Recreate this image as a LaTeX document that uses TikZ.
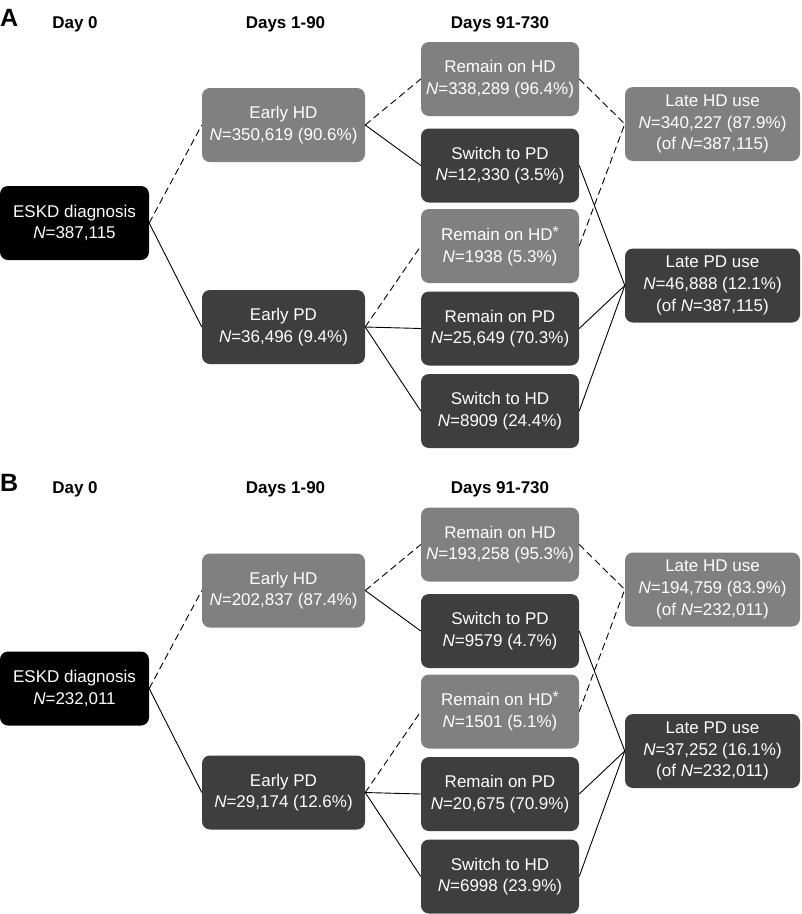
\documentclass[tikz,border=0pt]{standalone}
\usepackage{fontspec}
\setmainfont{Liberation Sans}
\definecolor{lightg}{HTML}{808080}
\definecolor{darkg}{HTML}{3E3E3E}
\newcommand{\Nn}{\textit{N}}
\newcommand{\astr}{\raisebox{3pt}{\fontsize{16}{16}\selectfont *}}
\begin{document}
\begin{tikzpicture}[x=1pt,y=-1pt,
  boxbase/.style={rectangle, rounded corners=8pt, inner sep=0pt, align=center, text=white,
    minimum height=74pt, font=\fontsize{17}{21.8}\selectfont},
  blackbox/.style={boxbase, fill=black},
  lightbox/.style={boxbase, fill=lightg},
  darkbox/.style={boxbase, fill=darkg},
  colone/.style={minimum width=149pt},
  coltwo/.style={minimum width=163pt},
  colthree/.style={minimum width=158pt},
  colfour/.style={minimum width=175pt},
  hdr/.style={anchor=base, inner sep=0pt, font=\fontsize{17}{20}\bfseries\selectfont},
  panellbl/.style={anchor=base west, inner sep=0pt, font=\fontsize{25}{28}\bfseries\selectfont},
  solidconn/.style={draw=black, line width=0.9pt},
  dashconn/.style={draw=black, line width=0.9pt, dash pattern=on 7pt off 4pt}]
\useasboundingbox (0,0) rectangle (802,914);

% ---------------- Panel A ----------------
\begin{scope}
\node[panellbl] (lblA) at (0,26) {A};
\node[hdr] (h0A) at (75,28) {Day 0};
\node[hdr] (h1A) at (285.5,28) {Days 1-90};
\node[hdr] (h2A) at (500,28) {Days 91-730};

\node[blackbox, colone] (eskdA) at (74.5,223) {ESKD diagnosis\\\Nn=387,115};
\node[lightbox, coltwo] (ehdA) at (283.5,125) {Early HD\\\Nn=350,619 (90.6\%)};
\node[darkbox, coltwo] (epdA) at (283.5,327) {Early PD\\\Nn=36,496 (9.4\%)};

\node[lightbox, colthree] (rhdA) at (500,79) {Remain on HD\\\Nn=338,289 (96.4\%)};
\node[darkbox, colthree] (spdA) at (500,165.5) {Switch to PD\\\Nn=12,330 (3.5\%)};
\node[lightbox, colthree] (rhdsA) at (500,246) {Remain on HD\astr\\\Nn=1938 (5.3\%)};
\node[darkbox, colthree] (rpdA) at (500,328.5) {Remain on PD\\\Nn=25,649 (70.3\%)};
\node[darkbox, colthree] (shdA) at (500,411) {Switch to HD\\\Nn=8909 (24.4\%)};

\node[lightbox, colfour] (lhdA) at (712.5,124) {Late HD use\\\Nn=340,227 (87.9\%)\\(of \Nn=387,115)};
\node[darkbox, colfour] (lpdA) at (712.5,285.5) {Late PD use\\\Nn=46,888 (12.1\%)\\(of \Nn=387,115)};

\draw[dashconn] (eskdA.east) -- (ehdA.west);
\draw[solidconn] (eskdA.east) -- (epdA.west);
\draw[dashconn] (ehdA.east) -- (rhdA.west);
\draw[solidconn] (ehdA.east) -- (spdA.west);
\draw[dashconn] (epdA.east) -- (rhdsA.west);
\draw[solidconn] (epdA.east) -- (rpdA.west);
\draw[solidconn] (epdA.east) -- (shdA.west);
\draw[dashconn] (rhdA.east) -- (lhdA.west);
\draw[dashconn] (rhdsA.east) -- (lhdA.west);
\draw[solidconn] (spdA.east) -- (lpdA.west);
\draw[solidconn] (rpdA.east) -- (lpdA.west);
\draw[solidconn] (shdA.east) -- (lpdA.west);
\end{scope}

% ---------------- Panel B ----------------
\begin{scope}[yshift=-465.5pt]
\node[panellbl] (lblB) at (0,26) {B};
\node[hdr] (h0B) at (75,28) {Day 0};
\node[hdr] (h1B) at (285.5,28) {Days 1-90};
\node[hdr] (h2B) at (500,28) {Days 91-730};

\node[blackbox, colone] (eskdB) at (74.5,223) {ESKD diagnosis\\\Nn=232,011};
\node[lightbox, coltwo] (ehdB) at (283.5,125) {Early HD\\\Nn=202,837 (87.4\%)};
\node[darkbox, coltwo] (epdB) at (283.5,327) {Early PD\\\Nn=29,174 (12.6\%)};

\node[lightbox, colthree] (rhdB) at (500,79) {Remain on HD\\\Nn=193,258 (95.3\%)};
\node[darkbox, colthree] (spdB) at (500,165.5) {Switch to PD\\\Nn=9579 (4.7\%)};
\node[lightbox, colthree] (rhdsB) at (500,246) {Remain on HD\astr\\\Nn=1501 (5.1\%)};
\node[darkbox, colthree] (rpdB) at (500,328.5) {Remain on PD\\\Nn=20,675 (70.9\%)};
\node[darkbox, colthree] (shdB) at (500,411) {Switch to HD\\\Nn=6998 (23.9\%)};

\node[lightbox, colfour] (lhdB) at (712.5,124) {Late HD use\\\Nn=194,759 (83.9\%)\\(of \Nn=232,011)};
\node[darkbox, colfour] (lpdB) at (712.5,285.5) {Late PD use\\\Nn=37,252 (16.1\%)\\(of \Nn=232,011)};

\draw[dashconn] (eskdB.east) -- (ehdB.west);
\draw[solidconn] (eskdB.east) -- (epdB.west);
\draw[dashconn] (ehdB.east) -- (rhdB.west);
\draw[solidconn] (ehdB.east) -- (spdB.west);
\draw[dashconn] (epdB.east) -- (rhdsB.west);
\draw[solidconn] (epdB.east) -- (rpdB.west);
\draw[solidconn] (epdB.east) -- (shdB.west);
\draw[dashconn] (rhdB.east) -- (lhdB.west);
\draw[dashconn] (rhdsB.east) -- (lhdB.west);
\draw[solidconn] (spdB.east) -- (lpdB.west);
\draw[solidconn] (rpdB.east) -- (lpdB.west);
\draw[solidconn] (shdB.east) -- (lpdB.west);
\end{scope}
\end{tikzpicture}
\end{document}
